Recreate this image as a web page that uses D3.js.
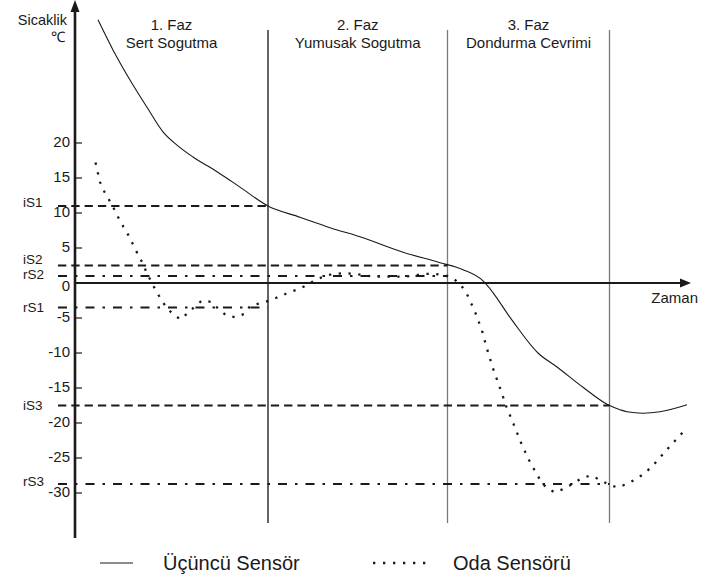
<!DOCTYPE html>
<html>
<head>
<meta charset="utf-8">
<script src="https://cdn.jsdelivr.net/npm/d3@7/dist/d3.min.js"></script>
<style>
  html, body { margin: 0; padding: 0; background: #fff; }
  svg { display: block; font-family: "Liberation Sans", Arial, sans-serif; }
</style>
</head>
<body>
<svg id="chart" width="715" height="583"></svg>
<script>
// ---------- DATA ----------
// time (arbitrary units), temperature (°C)
const thirdSensorTime = [4.6, 7.6, 11, 14.4, 17.6, 20.4, 23.6, 28.4, 33, 38.6, 45, 51, 57, 65.6, 73, 77.6, 81.6, 82.4, 87.4, 92.6, 96.4, 101.6, 106.6, 109, 110.4, 113.6, 117, 122.4];
const thirdSensorTemp = [37.6, 33.3, 29, 25.1, 21.6, 19.7, 18, 15.9, 13.7, 11, 9.4, 7.9, 6.6, 4.4, 2.9, 1.9, 0.3, -0.3, -5.3, -10, -12, -14.9, -17.4, -18.1, -18.4, -18.6, -18.4, -17.4];

const roomSensorTime = [4.1, 5, 5.9, 6.8, 7.8, 8.7, 9.7, 10.7, 11.6, 12.5, 13.4, 14.2, 15.1, 16.1, 17.1, 18.1, 19.5, 21.1, 22.4, 23.9, 25.4, 27.3, 28.7, 30.2, 32.1, 33.9, 35.1, 37, 38.9, 40.7, 42.6, 44.6, 46.4, 48, 49.6, 51.6, 53.8, 56, 58, 59.6, 62, 64, 66, 68, 70, 72, 74, 75.6, 77.2, 78.4, 80, 81.4, 82.4, 83.6, 85, 86.3, 87.8, 89.3, 91, 93, 94.2, 95.9, 97.8, 99.5, 101.3, 103.1, 105, 106.7, 108.5, 110.4, 112.2, 113.9, 115.4, 116.7, 118, 119.3, 120.7, 122];
const roomSensorTemp = [17.2, 14.4, 13, 11.9, 10.6, 9.3, 8, 6.8, 5.5, 4.2, 3, 1.7, 0.4, -1, -2.2, -3.3, -4.4, -5.2, -4.4, -3.4, -2.5, -2.7, -3.7, -4.6, -4.9, -4.4, -3.2, -2.9, -2.5, -2, -1.4, -0.9, -0.3, 0.4, 0.9, 1.3, 1.4, 1.3, 1.1, 0.9, 0.9, 0.9, 0.9, 1.1, 1.3, 1.3, 1.1, 0.7, -0.3, -1.6, -4.1, -6.8, -9.4, -12.2, -15, -17.7, -20.3, -23, -25.6, -28.1, -29.2, -29.9, -29.4, -28.7, -27.9, -27.5, -28.1, -28.8, -29.2, -28.7, -28, -27.2, -26.2, -25.2, -24.1, -23.1, -22, -21];

const phaseEnd = [38.6, 74.5, 106.9];
const phaseNumbers = ["1. Faz", "2. Faz", "3. Faz"];
const phaseNames = ["Sert Sogutma", "Yumusak Sogutma", "Dondurma Cevrimi"];

const thresholdNames = ["iS1", "iS2", "rS2", "rS1", "iS3", "rS3"];
const thresholdValues = [11, 2.5, 1, -3.5, -17.5, -28.7];
const thresholdUntilPhase = [1, 2, 2, 1, 3, 3];
const thresholdKind = ["i", "i", "r", "r", "i", "r"];

const yTicks = [20, 15, 10, 5, 0, -5, -10, -15, -20, -25, -30];

const legendLabels = ["Üçüncü Sensör", "Oda Sensörü"];
const yTitle = ["Sicaklik", "℃"];
const xTitle = "Zaman";

// ---------- STYLES ----------
const phaseLineColors = ["#111", "#7a7a7a", "#7a7a7a"];
const dashStyle = { i: "8.3,5", r: "9,8,2.5,8" };
const thresholdLabelShift = [-2.5, -5.5, -1, 0.5, 0.5, -1];

// ---------- DRAW ----------
const svg = d3.select("#chart");
const x = d3.scaleLinear().domain([0, 124]).range([75, 695]);
const y = d3.scaleLinear().domain([-30, 20]).range([493, 143]);

const x0 = x(0), y0 = y(0);
const ink = "#1a1a1a";

// phase lines
phaseEnd.forEach((t, i) => {
  svg.append("line")
    .attr("x1", x(t)).attr("x2", x(t))
    .attr("y1", 30).attr("y2", 523)
    .attr("stroke", phaseLineColors[i]).attr("stroke-width", 1.3);
});

// phase labels
phaseEnd.forEach((t, i) => {
  const start = i === 0 ? 0 : phaseEnd[i - 1];
  const cx = (x(start) + x(t)) / 2;
  svg.append("text").attr("x", cx).attr("y", 30).attr("text-anchor", "middle")
    .attr("font-size", 15).attr("fill", ink).text(phaseNumbers[i]);
  svg.append("text").attr("x", cx).attr("y", 47.5).attr("text-anchor", "middle")
    .attr("font-size", 15).attr("fill", ink).text(phaseNames[i]);
});

// threshold lines
thresholdValues.forEach((v, i) => {
  const endT = phaseEnd[thresholdUntilPhase[i] - 1];
  svg.append("line")
    .attr("x1", x0 - 17).attr("x2", x(endT))
    .attr("y1", y(v)).attr("y2", y(v))
    .attr("stroke", ink).attr("stroke-width", 2)
    .attr("stroke-dasharray", dashStyle[thresholdKind[i]]);
  svg.append("text")
    .attr("x", 23).attr("y", y(v) + thresholdLabelShift[i])
    .attr("dominant-baseline", "middle")
    .attr("font-size", 13.5).attr("fill", ink)
    .text(thresholdNames[i]);
});

// axes
svg.append("line").attr("x1", x0).attr("x2", x0).attr("y1", 8).attr("y2", 538)
  .attr("stroke", ink).attr("stroke-width", 2.6);
svg.append("path")
  .attr("d", `M${x0},0 L${x0 - 4.5},12 L${x0 + 4.5},12 Z`).attr("fill", ink);
svg.append("line").attr("x1", x0).attr("x2", 682).attr("y1", y0).attr("y2", y0)
  .attr("stroke", ink).attr("stroke-width", 2.2);
svg.append("path")
  .attr("d", `M691,${y0} L680,${y0 - 4.5} L680,${y0 + 4.5} Z`).attr("fill", ink);

// y ticks
yTicks.forEach(v => {
  if (v !== 0) {
    svg.append("line").attr("x1", x0).attr("x2", x0 + 7)
      .attr("y1", y(v)).attr("y2", y(v)).attr("stroke", ink).attr("stroke-width", 1.2);
  }
  svg.append("text").attr("x", 70).attr("y", y(v) + (v === 0 ? 4 : 0))
    .attr("text-anchor", "end").attr("dominant-baseline", "middle")
    .attr("font-size", 15).attr("fill", ink).text(v);
});

// axis titles
svg.append("text").attr("x", 67).attr("y", 25).attr("text-anchor", "end")
  .attr("font-size", 14.5).attr("fill", ink).text(yTitle[0]);
svg.append("text").attr("x", 64).attr("y", 42).attr("text-anchor", "end")
  .attr("font-size", 14.5).attr("fill", ink).attr("letter-spacing", -1).text(yTitle[1]);
svg.append("text").attr("x", 698).attr("y", 303).attr("text-anchor", "end")
  .attr("font-size", 15).attr("fill", ink).text(xTitle);

// series
const line = d3.line().x(d => x(d[0])).y(d => y(d[1]));
const solidPts = thirdSensorTime.map((t, i) => [t, thirdSensorTemp[i]]);
const dotPts = roomSensorTime.map((t, i) => [t, roomSensorTemp[i]]);

svg.append("path").datum(solidPts).attr("d", line.curve(d3.curveMonotoneX))
  .attr("fill", "none").attr("stroke", ink).attr("stroke-width", 1.1);

svg.append("path").datum(dotPts).attr("d", line.curve(d3.curveLinear))
  .attr("fill", "none").attr("stroke", ink).attr("stroke-width", 2.3)
  .attr("stroke-dasharray", "2.3,7.5");

// legend
svg.append("line").attr("x1", 100).attr("x2", 133).attr("y1", 563).attr("y2", 563)
  .attr("stroke", ink).attr("stroke-width", 1.1);
svg.append("text").attr("x", 163).attr("y", 570).attr("font-size", 20)
  .attr("fill", ink).text(legendLabels[0]);
svg.append("line").attr("x1", 373).attr("x2", 427).attr("y1", 563).attr("y2", 563)
  .attr("stroke", ink).attr("stroke-width", 2.3).attr("stroke-dasharray", "2.3,7.7");
svg.append("text").attr("x", 453).attr("y", 570).attr("font-size", 20)
  .attr("fill", ink).text(legendLabels[1]);
</script>
</body>
</html>
